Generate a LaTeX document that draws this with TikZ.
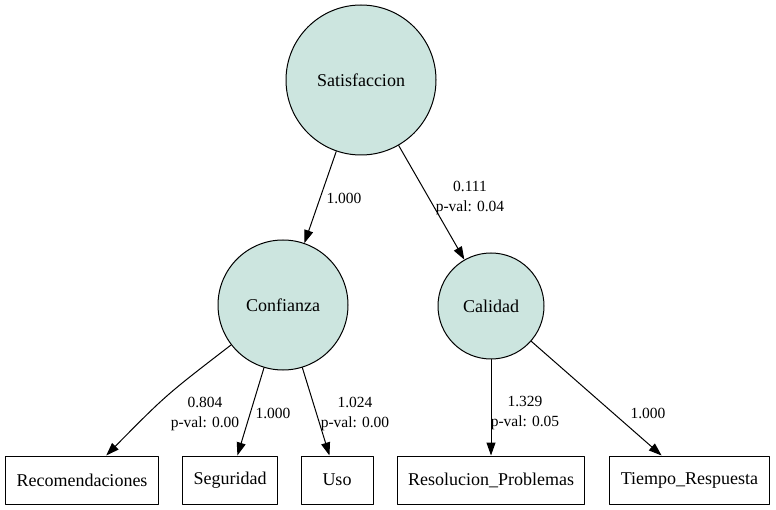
\documentclass[tikz,border=0pt]{standalone}
\usepackage{fontspec}
\setmainfont{Liberation Serif}
\usetikzlibrary{arrows.meta}
\definecolor{latfill}{RGB}{204,229,223}
\begin{document}
\begin{tikzpicture}[x=1pt, y=-1pt, line join=round, line cap=round, >={Triangle[length=13pt,width=9pt]},
lat/.style={circle, draw, line width=1pt, fill=latfill, inner sep=0pt, font=\fontsize{18}{20}\selectfont},
obs/.style={rectangle, draw, line width=1pt, minimum height=48pt, minimum width=72pt, inner xsep=11pt, font=\fontsize{18}{20}\selectfont},
lbl/.style={align=center, inner sep=0pt, font=\fontsize{15.5}{20}\selectfont},
ld/.style={->, line width=1pt}]
\useasboundingbox (0,0) rectangle (776,510);
% latent variables
\node[lat, minimum size=150pt] (sat) at (361,80) {Satisfaccion};
\node[lat, minimum size=130pt] (conf) at (283,305) {Confianza};
\node[lat, minimum size=106pt] (cal) at (491,306) {Calidad};
% indicators
\node[obs] (rec) at (82,480) {Recomendaciones};
\node[obs] (seg) at (230,480) {Seguridad};
\node[obs] (uso) at (337,480) {Uso};
\node[obs] (res) at (491,480) {Resolucion\_Problemas};
\node[obs] (tie) at (689.5,480) {Tiempo\_Respuesta};
% loadings
\draw[ld] (sat) -- (conf);
\draw[ld] (sat) -- (cal);
\draw[ld] (conf) .. controls (166,395) .. (rec);
\draw[ld] (conf) -- (seg);
\draw[ld] (conf) -- (uso);
\draw[ld] (cal) -- (res);
\draw[ld] (cal) -- (tie);
\node[lbl] at (344,198) {1.000};
\node[lbl] at (470,198) {0.111\\p-val: 0.04};
\node[lbl] at (205,414) {0.804\\p-val: 0.00};
\node[lbl] at (273,413) {1.000};
\node[lbl] at (355,414) {1.024\\p-val: 0.00};
\node[lbl] at (525,413) {1.329\\p-val: 0.05};
\node[lbl] at (648,413) {1.000};
\end{tikzpicture}
\end{document}
